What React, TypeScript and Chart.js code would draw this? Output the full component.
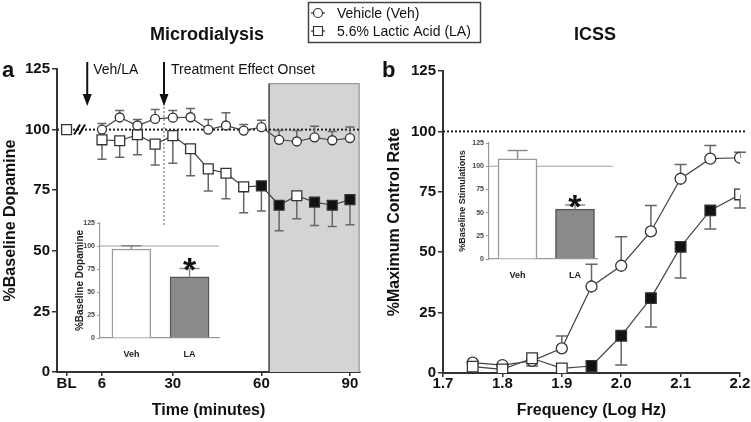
import React, { useEffect, useRef } from 'react';
import { Chart, registerables } from 'chart.js';

Chart.register(...registerables);

const FONT = '"Liberation Sans", Arial, Helvetica, sans-serif';

// ---------- Panel a: Microdialysis ----------
const timeMin = [6, 12, 18, 24, 30, 36, 42, 48, 54, 60, 66, 72, 78, 84, 90];
const timeTickValues = [-6, 6, 30, 60, 90];
const timeTickLabels = ['BL', '6', '30', '60', '90'];
const baselineTime = -6;
const baselineDopamine = 100;
const vehDopamine = [100, 105, 101.7, 104.4, 104.9, 105.1, 100, 101.7, 99.6, 101, 95.8, 95.1, 96.8, 95.6, 96.5];
const vehDopamineSem = [2.5, 2.9, 2.5, 3.9, 3.0, 3.6, 4.2, 5.2, 2.5, 2.9, 3.8, 4.5, 4.6, 3.6, 4.6];
const laDopamine = [95.8, 95.4, 97.9, 94, 97.5, 92.1, 83.8, 82, 76.4, 76.8, 68.8, 72.7, 70.1, 68.8, 71.1];
const laDopamineSem = [8, 6.8, 8.3, 8.6, 11.4, 11.1, 9.1, 10.5, 10.7, 10.4, 10.5, 9.5, 9.7, 8.8, 10.4];
const laDopamineSignificant = [0, 0, 0, 0, 0, 0, 0, 0, 0, 1, 1, 0, 1, 1, 1];
const percentTicks = [0, 25, 50, 75, 100, 125];
const shadedStart = 62.6;
const shadedTop = 119;
const injectionTime = 1;
const onsetTime = 27;
const breakTime = -1.6;

// ---------- Panel b: ICSS ----------
const freqLogHz = [1.75, 1.8, 1.85, 1.9, 1.95, 2.0, 2.05, 2.1, 2.15, 2.2];
const freqTickValues = [1.7, 1.8, 1.9, 2.0, 2.1, 2.2];
const vehIcss = [4.3, 3.3, 5, 10.2, 35.8, 44.4, 58.6, 80.4, 88.7, 89.1];
const vehIcssSem = [0, 0, 0, 5.1, 9.2, 12, 10.7, 5.9, 5.5, 2.3];
const laIcss = [2.6, 1.5, 6.1, 1.9, 2.9, 15.4, 31, 52.2, 67.3, 73.9];
const laIcssSem = [0, 0, 3.2, 0, 0, 12.1, 12, 12.9, 7.7, 5.6];
const laIcssSignificant = [0, 0, 0, 0, 1, 1, 1, 1, 1, 0];

// ---------- Insets ----------
const insetGroups = ['Veh', 'LA'];
const insetDopamine = [96.7, 66.5];
const insetDopamineSem = [3.5, 9];
const insetStim = [108, 53.7];
const insetStimSem = [9, 4.5];

const tickFont = { family: FONT, size: 15, weight: 'bold' as const };
const axisTitleFont = { family: FONT, size: 16, weight: 'bold' as const };

function drawErrorBars(chart: any) {
  const ctx = chart.ctx;
  chart.data.datasets.forEach((ds: any, i: number) => {
    if (!ds.errors) return;
    const meta = chart.getDatasetMeta(i);
    const yScale = chart.scales[meta.yAxisID];
    ctx.save();
    ctx.strokeStyle = ds.errorColor || '#666';
    ctx.lineWidth = ds.errorWidth || 1.5;
    meta.data.forEach((el: any, j: number) => {
      const e = ds.errors[j];
      if (!e) return;
      const v = ds.data[j].y;
      const end = ds.errorDir === 'down' ? v - e : v + e;
      const y1 = yScale.getPixelForValue(end);
      const cap = ds.errorCap || 5;
      ctx.beginPath();
      ctx.moveTo(el.x, el.y);
      ctx.lineTo(el.x, y1);
      ctx.moveTo(el.x - cap, y1);
      ctx.lineTo(el.x + cap, y1);
      ctx.stroke();
    });
    ctx.restore();
  });
}

function drawArrow(ctx: any, x: number, yTop: number, yTip: number) {
  ctx.save();
  ctx.strokeStyle = '#111';
  ctx.fillStyle = '#111';
  ctx.lineWidth = 2;
  ctx.beginPath();
  ctx.moveTo(x, yTop);
  ctx.lineTo(x, yTip - 10);
  ctx.stroke();
  ctx.beginPath();
  ctx.moveTo(x - 4.5, yTip - 12);
  ctx.lineTo(x + 4.5, yTip - 12);
  ctx.lineTo(x, yTip);
  ctx.closePath();
  ctx.fill();
  ctx.restore();
}

const panelAPlugin = {
  id: 'panelA',
  beforeDatasetsDraw(chart: any) {
    const { ctx, chartArea, scales } = chart;
    const x = scales.x, y = scales.y;
    ctx.save();
    // shaded region
    const sx = x.getPixelForValue(shadedStart);
    const sy = y.getPixelForValue(shadedTop);
    ctx.fillStyle = '#d4d4d4';
    ctx.fillRect(sx, sy, chartArea.right - sx, chartArea.bottom - sy);
    ctx.strokeStyle = '#9a9a9a';
    ctx.lineWidth = 1.2;
    ctx.beginPath();
    ctx.moveTo(sx, sy);
    ctx.lineTo(chartArea.right - 1, sy);
    ctx.lineTo(chartArea.right - 1, chartArea.bottom);
    ctx.stroke();
    ctx.strokeStyle = '#444';
    ctx.lineWidth = 1.5;
    ctx.beginPath();
    ctx.moveTo(sx, sy);
    ctx.lineTo(sx, chartArea.bottom);
    ctx.stroke();
    // dotted 100% line
    const y100 = y.getPixelForValue(100);
    ctx.strokeStyle = '#222';
    ctx.lineWidth = 2;
    ctx.setLineDash([2, 2]);
    ctx.beginPath();
    ctx.moveTo(chartArea.left, y100);
    ctx.lineTo(chartArea.right, y100);
    ctx.stroke();
    // onset dashed vertical
    const ox = x.getPixelForValue(onsetTime);
    ctx.strokeStyle = '#555';
    ctx.lineWidth = 1;
    ctx.setLineDash([2, 2]);
    ctx.beginPath();
    ctx.moveTo(ox, y.getPixelForValue(111));
    ctx.lineTo(ox, y.getPixelForValue(60));
    ctx.stroke();
    ctx.setLineDash([]);
    ctx.restore();
    drawErrorBars(chart);
  },
  afterDraw(chart: any) {
    const { ctx, scales } = chart;
    const x = scales.x, y = scales.y;
    ctx.save();
    // axis break marks
    const bx = x.getPixelForValue(breakTime);
    const by = y.getPixelForValue(100);
    ctx.strokeStyle = '#111';
    ctx.lineWidth = 2;
    [-2.5, 2.5].forEach((d) => {
      ctx.beginPath();
      ctx.moveTo(bx + d - 3, by + 5);
      ctx.lineTo(bx + d + 3, by - 5);
      ctx.stroke();
    });
    // arrows
    const ix = x.getPixelForValue(injectionTime);
    const ox = x.getPixelForValue(onsetTime);
    drawArrow(ctx, ix, 62, 106);
    drawArrow(ctx, ox, 62, 106);
    ctx.fillStyle = '#111';
    ctx.font = `14px ${FONT}`;
    ctx.textAlign = 'left';
    ctx.textBaseline = 'alphabetic';
    ctx.fillText('Veh/LA', ix + 6, 74);
    ctx.fillText('Treatment Effect Onset', ox + 7, 74);
    // panel label + title
    ctx.font = `bold 22px ${FONT}`;
    ctx.fillText('a', 2, 77);
    ctx.font = `bold 18px ${FONT}`;
    ctx.textAlign = 'center';
    ctx.fillText('Microdialysis', 207, 40);
    ctx.restore();
  },
};

const LEGEND_OFFSET = 300;

const panelBPlugin = {
  id: 'panelB',
  beforeDatasetsDraw(chart: any) {
    const { ctx, chartArea, scales } = chart;
    const y100 = scales.y.getPixelForValue(100);
    ctx.save();
    ctx.strokeStyle = '#222';
    ctx.lineWidth = 2;
    ctx.setLineDash([2, 2]);
    ctx.beginPath();
    ctx.moveTo(chartArea.left, y100);
    ctx.lineTo(chartArea.right + 5, y100);
    ctx.stroke();
    ctx.restore();
    drawErrorBars(chart);
  },
  afterDraw(chart: any) {
    const { ctx } = chart;
    ctx.save();
    ctx.fillStyle = '#111';
    ctx.textBaseline = 'alphabetic';
    ctx.textAlign = 'left';
    ctx.font = `bold 22px ${FONT}`;
    ctx.fillText('b', 382 - LEGEND_OFFSET, 77);
    ctx.font = `bold 18px ${FONT}`;
    ctx.textAlign = 'center';
    ctx.fillText('ICSS', 595 - LEGEND_OFFSET, 40);
    // legend
    const lx = 308 - LEGEND_OFFSET;
    ctx.strokeStyle = '#444';
    ctx.lineWidth = 1.5;
    ctx.strokeRect(lx + 0.5, 2.5, 172, 40);
    const mx = lx + 10;
    const rows = [13, 31];
    ctx.strokeStyle = '#333';
    ctx.lineWidth = 1.2;
    rows.forEach((ry, k) => {
      ctx.beginPath();
      ctx.moveTo(mx - 7, ry);
      ctx.lineTo(mx + 7, ry);
      ctx.stroke();
      ctx.fillStyle = '#fff';
      ctx.beginPath();
      if (k === 0) ctx.arc(mx, ry, 4.5, 0, Math.PI * 2);
      else ctx.rect(mx - 4.5, ry - 4.5, 9, 9);
      ctx.fill();
      ctx.stroke();
    });
    ctx.fillStyle = '#111';
    ctx.font = `14px ${FONT}`;
    ctx.textAlign = 'left';
    ctx.textBaseline = 'middle';
    ctx.fillText('Vehicle (Veh)', lx + 29, rows[0] + 1);
    ctx.fillText('5.6% Lactic Acid (LA)', lx + 29, rows[1] + 1);
    ctx.restore();
  },
};

function makeInsetPlugin(lineRight: number | null) {
  return {
    id: 'inset',
    beforeDatasetsDraw(chart: any) {
      const { ctx, chartArea, scales } = chart;
      const y100 = scales.y.getPixelForValue(100);
      ctx.save();
      ctx.strokeStyle = '#a0a0a0';
      ctx.lineWidth = 1;
      ctx.beginPath();
      ctx.moveTo(chartArea.left, y100);
      ctx.lineTo(lineRight == null ? chartArea.right : lineRight, y100);
      ctx.stroke();
      ctx.restore();
    },
    afterDatasetsDraw(chart: any) {
      drawErrorBars(chart);
      const { ctx, scales } = chart;
      const ds: any = chart.data.datasets[0];
      const meta = chart.getDatasetMeta(0);
      const el: any = meta.data[1];
      const top = scales.y.getPixelForValue(ds.data[1].y + ds.errors[1]);
      const size = 34;
      ctx.save();
      ctx.fillStyle = '#111';
      ctx.font = `bold ${size}px ${FONT}`;
      ctx.textAlign = 'center';
      ctx.textBaseline = 'alphabetic';
      ctx.fillText('*', el.x, top - 7 + size * 0.58);
      ctx.restore();
    },
  };
}

function mainLinePoint(color: string, style: string, radius: number, fill: any) {
  return {
    borderColor: color,
    borderWidth: 1.2,
    pointStyle: style,
    pointRadius: radius,
    pointBackgroundColor: fill,
    pointBorderColor: '#333',
    pointBorderWidth: 1.3,
    tension: 0,
  };
}

function configA(): any {
  return {
    type: 'line',
    data: {
      datasets: [
        {
          label: 'BL',
          data: [{ x: baselineTime, y: baselineDopamine }],
          showLine: false,
          ...mainLinePoint('#444', 'rect', 7, '#fff'),
        },
        {
          label: 'Vehicle (Veh)',
          data: timeMin.map((t, i) => ({ x: t, y: vehDopamine[i] })),
          ...mainLinePoint('#444', 'circle', 4.5, '#fff'),
          errors: vehDopamineSem,
          errorDir: 'up',
          errorCap: 4.5,
          errorColor: '#666',
        },
        {
          label: '5.6% Lactic Acid (LA)',
          data: timeMin.map((t, i) => ({ x: t, y: laDopamine[i] })),
          ...mainLinePoint('#444', 'rect', 7, laDopamineSignificant.map((s) => (s ? '#111' : '#fff'))),
          errors: laDopamineSem,
          errorDir: 'down',
          errorCap: 4.5,
          errorColor: '#666',
        },
      ],
    },
    options: {
      animation: false,
      responsive: false,
      devicePixelRatio: 1,
      events: [],
      layout: { padding: { left: 0, right: 20, top: 69, bottom: 0 } },
      plugins: { legend: { display: false }, tooltip: { enabled: false } },
      scales: {
        x: {
          type: 'linear',
          min: -9.24,
          max: 93.4,
          afterBuildTicks: (s: any) => {
            s.ticks = timeTickValues.map((v) => ({ value: v }));
          },
          afterFit: (s: any) => {
            s.height = 50;
            s.paddingLeft = 0;
            s.paddingRight = 0;
          },
          ticks: {
            autoSkip: false,
            maxRotation: 0,
            padding: -1,
            color: '#111',
            font: tickFont,
            callback: (_v: any, i: number) => timeTickLabels[i],
          },
          grid: { drawOnChartArea: false, drawTicks: true, tickLength: 4, color: '#333', lineWidth: 1.5 },
          border: { display: true, color: '#333', width: 2 },
          title: { display: true, text: 'Time (minutes)', font: axisTitleFont, color: '#111', padding: { top: 0, bottom: 1.4 } },
        },
        y: {
          type: 'linear',
          min: 0,
          max: 125,
          afterBuildTicks: (s: any) => {
            s.ticks = percentTicks.map((v) => ({ value: v }));
          },
          afterFit: (s: any) => {
            s.width = 57;
            s.paddingTop = 0;
            s.paddingBottom = 0;
          },
          ticks: { padding: 2, color: '#111', font: tickFont },
          grid: { drawOnChartArea: false, tickLength: 5, color: '#333', lineWidth: 1.5 },
          border: { display: true, color: '#333', width: 2 },
          title: { display: true, text: '%Baseline Dopamine', font: axisTitleFont, color: '#111', padding: { top: 1, bottom: 0 } },
        },
      },
    },
    plugins: [panelAPlugin],
  };
}

function configB(): any {
  return {
    type: 'line',
    data: {
      datasets: [
        {
          label: '5.6% Lactic Acid (LA)',
          data: freqLogHz.map((f, i) => ({ x: f, y: laIcss[i] })),
          ...mainLinePoint('#444', 'rect', 7.5, laIcssSignificant.map((s) => (s ? '#111' : '#fff'))),
          errors: laIcssSem,
          errorDir: 'down',
          errorCap: 6,
          errorColor: '#666',
        },
        {
          label: 'Vehicle (Veh)',
          data: freqLogHz.map((f, i) => ({ x: f, y: vehIcss[i] })),
          ...mainLinePoint('#444', 'circle', 5.5, '#fff'),
          errors: vehIcssSem,
          errorDir: 'up',
          errorCap: 6,
          errorColor: '#666',
        },
      ],
    },
    options: {
      animation: false,
      responsive: false,
      devicePixelRatio: 1,
      events: [],
      layout: { padding: { left: 82, right: 11, top: 71, bottom: 0 } },
      plugins: { legend: { display: false }, tooltip: { enabled: false } },
      scales: {
        x: {
          type: 'linear',
          min: 1.7,
          max: 2.2,
          afterBuildTicks: (s: any) => {
            s.ticks = freqTickValues.map((v) => ({ value: v }));
          },
          afterFit: (s: any) => {
            s.height = 49;
            s.paddingLeft = 0;
            s.paddingRight = 0;
          },
          ticks: {
            autoSkip: false,
            maxRotation: 0,
            padding: -2,
            color: '#111',
            font: tickFont,
            callback: (v: any) => Number(v).toFixed(1),
          },
          grid: { drawOnChartArea: false, drawTicks: true, tickLength: 4, color: '#333', lineWidth: 1.5 },
          border: { display: true, color: '#333', width: 2 },
          title: { display: true, text: 'Frequency (Log Hz)', font: axisTitleFont, color: '#111', padding: { top: 0, bottom: 1.4 } },
        },
        y: {
          type: 'linear',
          min: 0,
          max: 125,
          afterBuildTicks: (s: any) => {
            s.ticks = percentTicks.map((v) => ({ value: v }));
          },
          afterFit: (s: any) => {
            s.width = 61;
            s.paddingTop = 0;
            s.paddingBottom = 0;
          },
          ticks: { padding: 2, color: '#111', font: tickFont },
          grid: { drawOnChartArea: false, tickLength: 5, color: '#333', lineWidth: 1.5 },
          border: { display: true, color: '#333', width: 2 },
          title: { display: true, text: '%Maximum Control Rate', font: axisTitleFont, color: '#111', padding: { top: 3, bottom: 0 } },
        },
      },
    },
    plugins: [panelBPlugin],
  };
}

function configInset(
  values: number[],
  sems: number[],
  yTitle: string,
  titleSize: number,
  titlePad: number,
  padding: any,
  yWidth: number,
  xHeight: number,
  xMin: number,
  xMax: number,
  lineRight: number | null,
): any {
  return {
    type: 'bar',
    data: {
      datasets: [
        {
          data: insetGroups.map((_g, i) => ({ x: i, y: values[i] })),
          backgroundColor: ['#ffffff', '#8a8a8a'],
          borderColor: ['#9a9a9a', '#555555'],
          borderWidth: 1.5,
          barThickness: 39,
          errors: sems,
          errorDir: 'up',
          errorCap: 10,
          errorColor: '#8a8a8a',
          errorWidth: 1.5,
        },
      ],
    },
    options: {
      animation: false,
      responsive: false,
      devicePixelRatio: 1,
      events: [],
      layout: { padding },
      plugins: { legend: { display: false }, tooltip: { enabled: false } },
      scales: {
        x: {
          type: 'linear',
          offset: false,
          min: xMin,
          max: xMax,
          afterBuildTicks: (s: any) => {
            s.ticks = insetGroups.map((_g, i) => ({ value: i }));
          },
          afterFit: (s: any) => {
            s.height = xHeight;
            s.paddingLeft = 0;
            s.paddingRight = 0;
          },
          ticks: {
            autoSkip: false,
            maxRotation: 0,
            padding: 3,
            color: '#222',
            font: { family: FONT, size: 9, weight: 'bold' },
            callback: (_v: any, i: number) => insetGroups[i],
          },
          grid: { display: false, offset: false },
          border: { display: true, color: '#9a9a9a', width: 1.2 },
        },
        y: {
          type: 'linear',
          min: 0,
          max: 125,
          afterBuildTicks: (s: any) => {
            s.ticks = percentTicks.map((v) => ({ value: v }));
          },
          afterFit: (s: any) => {
            s.width = yWidth;
            s.paddingTop = 0;
            s.paddingBottom = 0;
          },
          ticks: { padding: 2, color: '#444', font: { family: FONT, size: 7, weight: 'bold' } },
          grid: { drawOnChartArea: false, tickLength: 3, color: '#9a9a9a', lineWidth: 1 },
          border: { display: true, color: '#9a9a9a', width: 1.2 },
          title: {
            display: true,
            text: yTitle,
            color: '#222',
            font: { family: FONT, size: titleSize, weight: 'bold' },
            padding: { top: titlePad, bottom: 0 },
          },
        },
      },
    },
    plugins: [makeInsetPlugin(lineRight)],
  };
}

export default function App() {
  const aRef = useRef<HTMLCanvasElement>(null);
  const bRef = useRef<HTMLCanvasElement>(null);
  const iaRef = useRef<HTMLCanvasElement>(null);
  const ibRef = useRef<HTMLCanvasElement>(null);

  useEffect(() => {
    const charts: Chart[] = [];
    charts.push(new Chart(aRef.current as HTMLCanvasElement, configA()));
    charts.push(new Chart(bRef.current as HTMLCanvasElement, configB()));
    charts.push(
      new Chart(
        iaRef.current as HTMLCanvasElement,
        configInset(insetDopamine, insetDopamineSem, '%Baseline Dopamine', 10, 14.7,
          { left: 0, right: 16, top: 23, bottom: 0 }, 40, 22, -0.54, 1.507, null),
      ),
    );
    charts.push(
      new Chart(
        ibRef.current as HTMLCanvasElement,
        configInset(insetStim, insetStimSem, '%Baseline Stimulations', 9, 17.6,
          { left: 0, right: 23, top: 15, bottom: 0 }, 49, 21, -0.496, 1.383, 173),
      ),
    );
    return () => charts.forEach((c) => c.destroy());
  }, []);

  return (
    <div style={{ position: 'absolute', left: 0, top: 0, width: 751, height: 422, background: '#fff', overflow: 'hidden' }}>
      <canvas ref={aRef} width={380} height={422} style={{ position: 'absolute', left: 0, top: 0 }} />
      <canvas ref={bRef} width={451} height={422} style={{ position: 'absolute', left: 300, top: 0 }} />
      <canvas ref={iaRef} width={175} height={160} style={{ position: 'absolute', left: 60, top: 200 }} />
      <canvas ref={ibRef} width={180} height={152} style={{ position: 'absolute', left: 440, top: 128 }} />
    </div>
  );
}
